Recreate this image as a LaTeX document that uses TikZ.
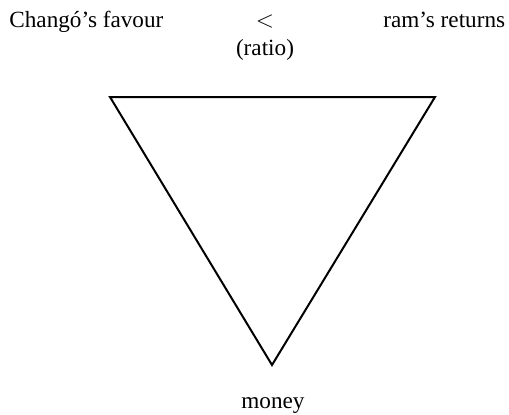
\documentclass[tikz,border=0pt]{standalone}
\usepackage{fontspec}
\setmainfont{Liberation Serif}
\tikzset{
    label/.style={inner sep=0pt, font=\fontsize{11.6}{14}\selectfont},
    side/.style={line width=1pt, line join=miter}
}
\begin{document}
\begin{tikzpicture}[x=0.5pt,y=-0.5pt]
    \useasboundingbox (0,0) rectangle (509,414);

    % Labels along the top
    \node[label, anchor=base west] (favour) at (9,27) {Changó’s favour};
    \node[label, anchor=base] (less) at (265,27) {$<$};
    \node[label, anchor=base] (ratio) at (265,55) {(ratio)};
    \node[label, anchor=base west] (returns) at (383,27) {ram’s returns};

    % Inverted triangle
    \coordinate (tl) at (110,97);
    \coordinate (tr) at (435,97);
    \coordinate (bot) at (272,365);
    \draw[side] (tl) -- (tr) -- (bot) -- cycle;

    % Label below
    \node[label, anchor=base] (money) at (273,408) {money};
\end{tikzpicture}
\end{document}
